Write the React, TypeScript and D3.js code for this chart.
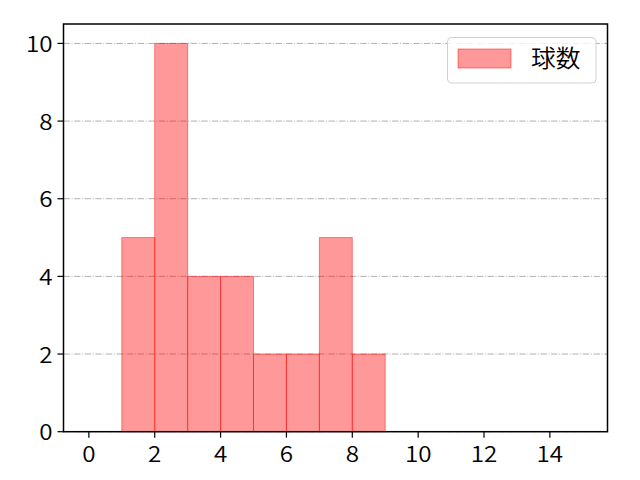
import React from "react";
import * as d3 from "d3";

const binStarts = [1, 2, 3, 4, 5, 6, 7, 8];
const binCounts = [5, 10, 4, 4, 2, 2, 5, 2];
const binWidth = 1;
const xTicks = [0, 2, 4, 6, 8, 10, 12, 14];
const yTicks = [0, 2, 4, 6, 8, 10];
const seriesName = "球数";

function T({ x, y, anchor, size, sx = 1.1, children }: any) {
  return (
    <text transform={`translate(${x},${y}) scale(${sx},1)`} textAnchor={anchor} fontSize={size} fill="#000">
      {children}
    </text>
  );
}

export default function App() {
  const W = 640, H = 480;
  const left = 63.5, right = 607.5, top = 24, bottom = 431.7;
  const x = d3.scaleLinear().domain([-0.77, 15.75]).range([left, right]);
  const y = d3.scaleLinear().domain([0, 10.5]).range([bottom, top]);
  const font = "'Noto Sans CJK JP', 'Noto Sans', sans-serif";
  const fs = 22;
  return (
    <svg width={W} height={H} style={{ position: "absolute", left: 0, top: 0 }} fontFamily={font} fontWeight={350}>
      <rect width={W} height={H} fill="#fff" />
      {yTicks.map((t) => (
        <line key={"g" + t} x1={left} x2={right} y1={y(t)} y2={y(t)} stroke="#b0b0b0" strokeWidth={1} strokeDasharray="6.4,1.6,1,1.6" />
      ))}
      {binStarts.map((s, i) => (
        <rect key={i} x={x(s)} y={y(binCounts[i])} width={x(s + binWidth) - x(s)} height={y(0) - y(binCounts[i])}
          fill="rgb(255,0,0)" fillOpacity={0.4} stroke="rgb(255,0,0)" strokeOpacity={0.45} strokeWidth={1} />
      ))}
      <rect x={left} y={top} width={right - left} height={bottom - top} fill="none" stroke="#000" strokeWidth={1.5} />
      {xTicks.map((t) => (
        <g key={"x" + t}>
          <line x1={x(t)} x2={x(t)} y1={bottom} y2={bottom + 6} stroke="#000" strokeWidth={1.2} />
          <T x={x(t)} y={bottom + 30.5} anchor="middle" size={fs}>{t}</T>
        </g>
      ))}
      {yTicks.map((t) => (
        <g key={"y" + t}>
          <line x1={left - 6} x2={left} y1={y(t)} y2={y(t)} stroke="#000" strokeWidth={1.2} />
          <T x={left - 11} y={y(t) + 8.5} anchor="end" size={fs}>{t}</T>
        </g>
      ))}
      <rect x={447.5} y={37.5} width={148.5} height={45.5} rx={4} fill="#fff" fillOpacity={0.8} stroke="#d0d0d0" strokeWidth={1} />
      <rect x={458} y={49} width={53} height={19} fill="rgb(255,0,0)" fillOpacity={0.4} stroke="rgb(255,0,0)" strokeOpacity={0.45} />
      <T x={531} y={67} anchor="start" size={24} sx={1.03}>{seriesName}</T>
    </svg>
  );
}
